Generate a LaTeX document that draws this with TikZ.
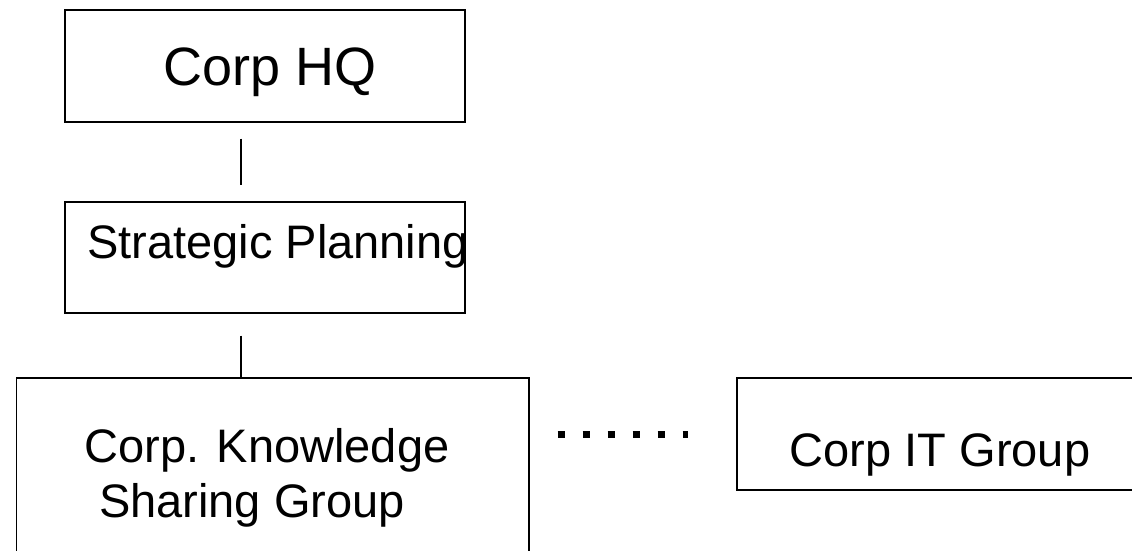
\documentclass[tikz,border=0pt]{standalone}
\usepackage{fontspec}
\setmainfont{Liberation Sans}
\usepackage{tikz}
\usetikzlibrary{positioning, calc}

\begin{document}
\begin{tikzpicture}[x=1pt, y=-1pt,
  unit/.style={draw=black, line width=1.3pt, inner sep=0pt},
  txt/.style={inner sep=0pt, font=\fontsize{47}{55}\selectfont},
  link/.style={line width=1.3pt},
  dots/.style={line width=7pt, dash pattern=on 7pt off 18pt}
]
  \useasboundingbox (0,0) rectangle (1132,551);
  \clip (0,0) rectangle (1132,551);
  \fill[white] (0,0) rectangle (1132,551);
  % boxes
  \node[unit, minimum width=400pt, minimum height=112pt] (hq) at (265, 66) {};
  \node[unit, minimum width=400pt, minimum height=111pt] (sp) at (265, 257.5) {};
  \node[unit, minimum width=512.5pt, minimum height=222pt] (ksg) at (272.75, 489) {};
  \node[unit, minimum width=403pt, minimum height=112pt] (itg) at (938.5, 434) {};
  % labels
  \node[txt, font=\fontsize{54}{60}\selectfont, anchor=base] (hqtext) at (270, 85) {Corp HQ};
  \node[txt, anchor=base west] (sptext) at (87, 258) {Strategic Planning};
  \node[txt, align=center] (ksgtext) at (267, 478) {Corp. Knowledge\\Sharing Group\hspace*{30pt}};
  \node[txt, anchor=base] (itgtext) at (940, 466) {Corp IT Group};
  % connectors
  \coordinate (spine) at (241, 0);
  \draw[link, shorten <=16pt, shorten >=16pt] (hq.south -| spine) -- (sp.north -| spine);
  \draw[link, shorten <=22pt] (sp.south -| spine) -- (ksg.north -| spine);
  \draw[dots, shorten <=28pt, shorten >=48pt] (ksg.east |- itg.west) -- (itg.west);
\end{tikzpicture}
\end{document}
